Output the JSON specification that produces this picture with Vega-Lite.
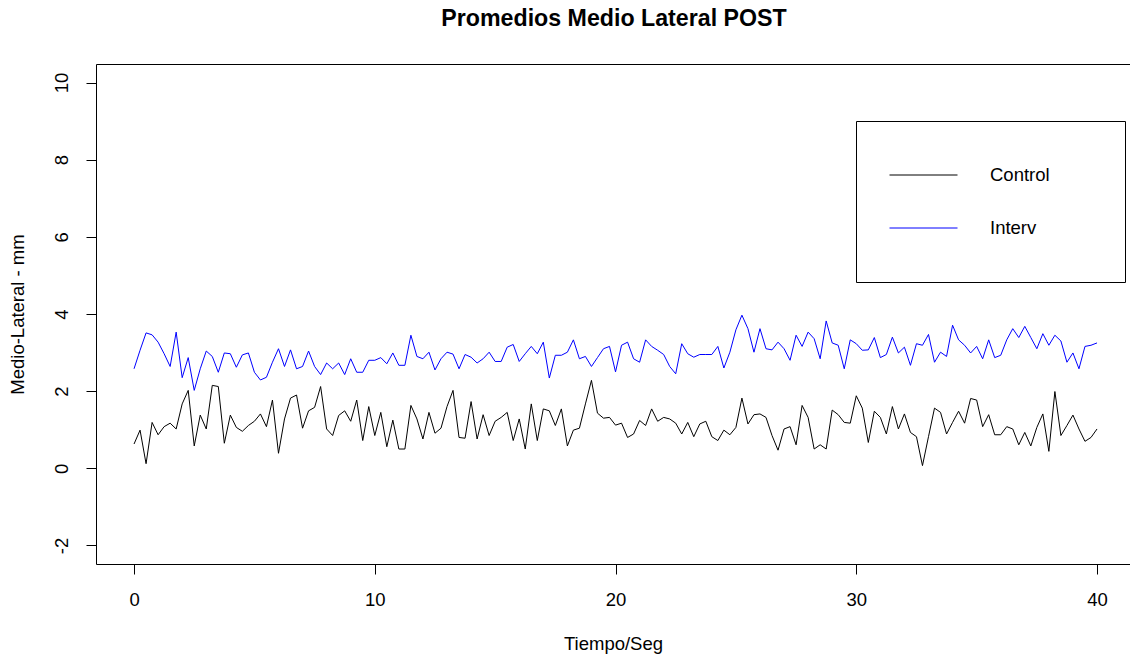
{
  "$schema": "https://vega.github.io/schema/vega-lite/v6.json",
  "width": 1034,
  "height": 500,
  "autosize": {"type": "none"},
  "padding": {"left": 96, "top": 64, "right": 0, "bottom": 92},
  "background": "white",
  "title": {
    "text": "Promedios Medio Lateral POST",
    "font": "Liberation Sans",
    "fontSize": 23.2,
    "fontWeight": "bold",
    "color": "black",
    "anchor": "middle",
    "dx": 1,
    "offset": 33
  },
  "data": {
    "values": [
      {"t": 0, "Control": 0.63, "Interv": 2.58},
      {"t": 0.25, "Control": 0.99, "Interv": 3.06},
      {"t": 0.5, "Control": 0.12, "Interv": 3.51},
      {"t": 0.75, "Control": 1.19, "Interv": 3.46},
      {"t": 1, "Control": 0.87, "Interv": 3.27},
      {"t": 1.25, "Control": 1.08, "Interv": 2.97},
      {"t": 1.5, "Control": 1.17, "Interv": 2.64},
      {"t": 1.75, "Control": 1.02, "Interv": 3.53},
      {"t": 2, "Control": 1.67, "Interv": 2.35},
      {"t": 2.25, "Control": 2.02, "Interv": 2.87},
      {"t": 2.5, "Control": 0.58, "Interv": 2.02},
      {"t": 2.75, "Control": 1.38, "Interv": 2.58},
      {"t": 3, "Control": 1.02, "Interv": 3.04},
      {"t": 3.25, "Control": 2.15, "Interv": 2.9},
      {"t": 3.5, "Control": 2.12, "Interv": 2.49},
      {"t": 3.75, "Control": 0.65, "Interv": 2.99},
      {"t": 4, "Control": 1.38, "Interv": 2.97},
      {"t": 4.25, "Control": 1.06, "Interv": 2.62},
      {"t": 4.5, "Control": 0.96, "Interv": 2.94},
      {"t": 4.75, "Control": 1.11, "Interv": 2.99},
      {"t": 5, "Control": 1.22, "Interv": 2.49},
      {"t": 5.25, "Control": 1.41, "Interv": 2.29},
      {"t": 5.5, "Control": 1.08, "Interv": 2.36},
      {"t": 5.75, "Control": 1.77, "Interv": 2.75},
      {"t": 6, "Control": 0.39, "Interv": 3.1},
      {"t": 6.25, "Control": 1.28, "Interv": 2.64},
      {"t": 6.5, "Control": 1.82, "Interv": 3.07},
      {"t": 6.75, "Control": 1.9, "Interv": 2.58},
      {"t": 7, "Control": 1.04, "Interv": 2.64},
      {"t": 7.25, "Control": 1.49, "Interv": 3.04},
      {"t": 7.5, "Control": 1.58, "Interv": 2.64},
      {"t": 7.75, "Control": 2.12, "Interv": 2.43},
      {"t": 8, "Control": 1.02, "Interv": 2.73},
      {"t": 8.25, "Control": 0.85, "Interv": 2.58},
      {"t": 8.5, "Control": 1.37, "Interv": 2.73},
      {"t": 8.75, "Control": 1.49, "Interv": 2.43},
      {"t": 9, "Control": 1.22, "Interv": 2.84},
      {"t": 9.25, "Control": 1.77, "Interv": 2.49},
      {"t": 9.5, "Control": 0.72, "Interv": 2.49},
      {"t": 9.75, "Control": 1.6, "Interv": 2.8},
      {"t": 10, "Control": 0.85, "Interv": 2.8},
      {"t": 10.25, "Control": 1.45, "Interv": 2.87},
      {"t": 10.5, "Control": 0.56, "Interv": 2.71},
      {"t": 10.75, "Control": 1.25, "Interv": 2.99},
      {"t": 11, "Control": 0.5, "Interv": 2.67},
      {"t": 11.25, "Control": 0.5, "Interv": 2.67},
      {"t": 11.5, "Control": 1.63, "Interv": 3.45},
      {"t": 11.75, "Control": 1.28, "Interv": 2.9},
      {"t": 12, "Control": 0.76, "Interv": 2.84},
      {"t": 12.25, "Control": 1.45, "Interv": 3.01},
      {"t": 12.5, "Control": 0.91, "Interv": 2.55},
      {"t": 12.75, "Control": 1.04, "Interv": 2.84},
      {"t": 13, "Control": 1.6, "Interv": 3.01},
      {"t": 13.25, "Control": 2.02, "Interv": 2.96},
      {"t": 13.5, "Control": 0.8, "Interv": 2.58},
      {"t": 13.75, "Control": 0.78, "Interv": 2.95},
      {"t": 14, "Control": 1.73, "Interv": 2.88},
      {"t": 14.25, "Control": 0.76, "Interv": 2.73},
      {"t": 14.5, "Control": 1.39, "Interv": 2.84},
      {"t": 14.75, "Control": 0.85, "Interv": 3.01},
      {"t": 15, "Control": 1.22, "Interv": 2.77},
      {"t": 15.25, "Control": 1.32, "Interv": 2.77},
      {"t": 15.5, "Control": 1.45, "Interv": 3.14},
      {"t": 15.75, "Control": 0.72, "Interv": 3.21},
      {"t": 16, "Control": 1.28, "Interv": 2.77},
      {"t": 16.25, "Control": 0.5, "Interv": 2.97},
      {"t": 16.5, "Control": 1.67, "Interv": 3.16},
      {"t": 16.75, "Control": 0.72, "Interv": 2.97},
      {"t": 17, "Control": 1.54, "Interv": 3.27},
      {"t": 17.25, "Control": 1.49, "Interv": 2.34},
      {"t": 17.5, "Control": 1.11, "Interv": 2.93},
      {"t": 17.75, "Control": 1.54, "Interv": 2.93},
      {"t": 18, "Control": 0.58, "Interv": 3.01},
      {"t": 18.25, "Control": 0.99, "Interv": 3.33},
      {"t": 18.5, "Control": 1.04, "Interv": 2.84},
      {"t": 18.75, "Control": 1.67, "Interv": 2.9},
      {"t": 19, "Control": 2.28, "Interv": 2.64},
      {"t": 19.25, "Control": 1.43, "Interv": 2.87},
      {"t": 19.5, "Control": 1.3, "Interv": 3.1},
      {"t": 19.75, "Control": 1.32, "Interv": 3.16},
      {"t": 20, "Control": 1.12, "Interv": 2.5},
      {"t": 20.25, "Control": 1.17, "Interv": 3.19},
      {"t": 20.5, "Control": 0.8, "Interv": 3.27},
      {"t": 20.75, "Control": 0.89, "Interv": 2.84},
      {"t": 21, "Control": 1.24, "Interv": 2.75},
      {"t": 21.25, "Control": 1.11, "Interv": 3.33},
      {"t": 21.5, "Control": 1.54, "Interv": 3.16},
      {"t": 21.75, "Control": 1.22, "Interv": 3.06},
      {"t": 22, "Control": 1.32, "Interv": 2.95},
      {"t": 22.25, "Control": 1.28, "Interv": 2.64},
      {"t": 22.5, "Control": 1.17, "Interv": 2.45},
      {"t": 22.75, "Control": 0.89, "Interv": 3.23},
      {"t": 23, "Control": 1.19, "Interv": 2.97},
      {"t": 23.25, "Control": 0.82, "Interv": 2.88},
      {"t": 23.5, "Control": 1.15, "Interv": 2.95},
      {"t": 23.75, "Control": 1.22, "Interv": 2.95},
      {"t": 24, "Control": 0.82, "Interv": 2.95},
      {"t": 24.25, "Control": 0.72, "Interv": 3.16},
      {"t": 24.5, "Control": 0.99, "Interv": 2.6},
      {"t": 24.75, "Control": 0.87, "Interv": 3.01},
      {"t": 25, "Control": 1.06, "Interv": 3.59},
      {"t": 25.25, "Control": 1.82, "Interv": 3.97},
      {"t": 25.5, "Control": 1.15, "Interv": 3.62},
      {"t": 25.75, "Control": 1.39, "Interv": 3.01},
      {"t": 26, "Control": 1.41, "Interv": 3.62},
      {"t": 26.25, "Control": 1.32, "Interv": 3.1},
      {"t": 26.5, "Control": 0.85, "Interv": 3.07},
      {"t": 26.75, "Control": 0.47, "Interv": 3.27},
      {"t": 27, "Control": 1.02, "Interv": 3.1},
      {"t": 27.25, "Control": 1.08, "Interv": 2.8},
      {"t": 27.5, "Control": 0.61, "Interv": 3.45},
      {"t": 27.75, "Control": 1.63, "Interv": 3.16},
      {"t": 28, "Control": 1.32, "Interv": 3.53},
      {"t": 28.25, "Control": 0.5, "Interv": 3.36},
      {"t": 28.5, "Control": 0.61, "Interv": 2.84},
      {"t": 28.75, "Control": 0.5, "Interv": 3.82},
      {"t": 29, "Control": 1.51, "Interv": 3.25},
      {"t": 29.25, "Control": 1.39, "Interv": 3.19},
      {"t": 29.5, "Control": 1.19, "Interv": 2.58},
      {"t": 29.75, "Control": 1.17, "Interv": 3.33},
      {"t": 30, "Control": 1.88, "Interv": 3.23},
      {"t": 30.25, "Control": 1.56, "Interv": 3.06},
      {"t": 30.5, "Control": 0.67, "Interv": 3.07},
      {"t": 30.75, "Control": 1.48, "Interv": 3.39},
      {"t": 31, "Control": 1.32, "Interv": 2.87},
      {"t": 31.25, "Control": 0.89, "Interv": 2.95},
      {"t": 31.5, "Control": 1.6, "Interv": 3.4},
      {"t": 31.75, "Control": 1.02, "Interv": 2.99},
      {"t": 32, "Control": 1.41, "Interv": 3.14},
      {"t": 32.25, "Control": 0.93, "Interv": 2.67},
      {"t": 32.5, "Control": 0.82, "Interv": 3.23},
      {"t": 32.75, "Control": 0.07, "Interv": 3.19},
      {"t": 33, "Control": 0.82, "Interv": 3.47},
      {"t": 33.25, "Control": 1.56, "Interv": 2.75},
      {"t": 33.5, "Control": 1.45, "Interv": 3.01},
      {"t": 33.75, "Control": 0.89, "Interv": 2.9},
      {"t": 34, "Control": 1.19, "Interv": 3.71},
      {"t": 34.25, "Control": 1.48, "Interv": 3.33},
      {"t": 34.5, "Control": 1.17, "Interv": 3.19},
      {"t": 34.75, "Control": 1.81, "Interv": 2.99},
      {"t": 35, "Control": 1.77, "Interv": 3.16},
      {"t": 35.25, "Control": 1.08, "Interv": 2.84},
      {"t": 35.5, "Control": 1.39, "Interv": 3.33},
      {"t": 35.75, "Control": 0.87, "Interv": 2.87},
      {"t": 36, "Control": 0.87, "Interv": 2.93},
      {"t": 36.25, "Control": 1.08, "Interv": 3.33},
      {"t": 36.5, "Control": 1.02, "Interv": 3.62},
      {"t": 36.75, "Control": 0.61, "Interv": 3.39},
      {"t": 37, "Control": 0.93, "Interv": 3.68},
      {"t": 37.25, "Control": 0.58, "Interv": 3.39},
      {"t": 37.5, "Control": 1.06, "Interv": 3.1},
      {"t": 37.75, "Control": 1.41, "Interv": 3.49},
      {"t": 38, "Control": 0.44, "Interv": 3.19},
      {"t": 38.25, "Control": 1.99, "Interv": 3.45},
      {"t": 38.5, "Control": 0.85, "Interv": 3.3},
      {"t": 38.75, "Control": 1.11, "Interv": 2.75},
      {"t": 39, "Control": 1.38, "Interv": 2.99},
      {"t": 39.25, "Control": 1.02, "Interv": 2.58},
      {"t": 39.5, "Control": 0.7, "Interv": 3.16},
      {"t": 39.75, "Control": 0.8, "Interv": 3.19},
      {"t": 40, "Control": 1.02, "Interv": 3.25}
    ]
  },
  "transform": [{"fold": ["Control", "Interv"], "as": ["grupo", "valor"]}],
  "layer": [
    {
      "mark": {"type": "line", "strokeWidth": 1},
      "encoding": {
        "x": {
          "field": "t",
          "type": "quantitative",
          "scale": {"domain": [-1.58, 41.37], "nice": false, "zero": false},
          "axis": {
            "orient": "bottom",
            "values": [0, 10, 20, 30, 40],
            "title": "Tiempo/Seg",
            "labelPadding": 16.5,
            "titlePadding": 25
          }
        },
        "y": {
          "field": "valor",
          "type": "quantitative",
          "scale": {"domain": [-2.48, 10.48], "nice": false, "zero": false},
          "axis": {
            "orient": "left",
            "values": [-2, 0, 2, 4, 6, 8, 10],
            "labelExpr": "toString(datum.value)",
            "title": "Medio-Lateral - mm",
            "labelAngle": -90,
            "labelAlign": "center",
            "labelBaseline": "alphabetic",
            "labelPadding": 18.5,
            "titlePadding": 25
          }
        },
        "color": {
          "field": "grupo",
          "type": "nominal",
          "scale": {"domain": ["Control", "Interv"], "range": ["#000000", "#0000ff"]},
          "legend": {
            "orient": "none",
            "legendX": 760,
            "legendY": 57,
            "title": null,
            "padding": 33,
            "strokeColor": "black",
            "fillColor": "white",
            "symbolType": "stroke",
            "symbolSize": 4624,
            "symbolStrokeWidth": 1,
            "clipHeight": 42,
            "rowPadding": 11,
            "labelOffset": 32,
            "labelFont": "Liberation Sans",
            "labelFontSize": 18.5,
            "labelColor": "black",
            "labelExpr": "datum.label + '\u2800\u2800\u2800'"
          }
        }
      }
    },
    {
      "mark": {"type": "line", "strokeOpacity": 0},
      "encoding": {
        "x": {
          "field": "t",
          "type": "quantitative",
          "axis": {"orient": "top", "labels": false, "ticks": false, "title": null, "domain": true}
        },
        "y": {"field": "valor", "type": "quantitative", "axis": null},
        "detail": {"field": "grupo", "type": "nominal"}
      }
    }
  ],
  "resolve": {"axis": {"x": "independent", "y": "independent"}},
  "config": {
    "view": {"stroke": null},
    "axis": {
      "grid": false,
      "domainColor": "black",
      "domainWidth": 1,
      "tickColor": "black",
      "tickWidth": 1,
      "tickSize": 10,
      "labelFont": "Liberation Sans",
      "labelFontSize": 18.5,
      "labelColor": "black",
      "titleFont": "Liberation Sans",
      "titleFontSize": 18.5,
      "titleFontWeight": "normal",
      "titleColor": "black"
    }
  }
}
